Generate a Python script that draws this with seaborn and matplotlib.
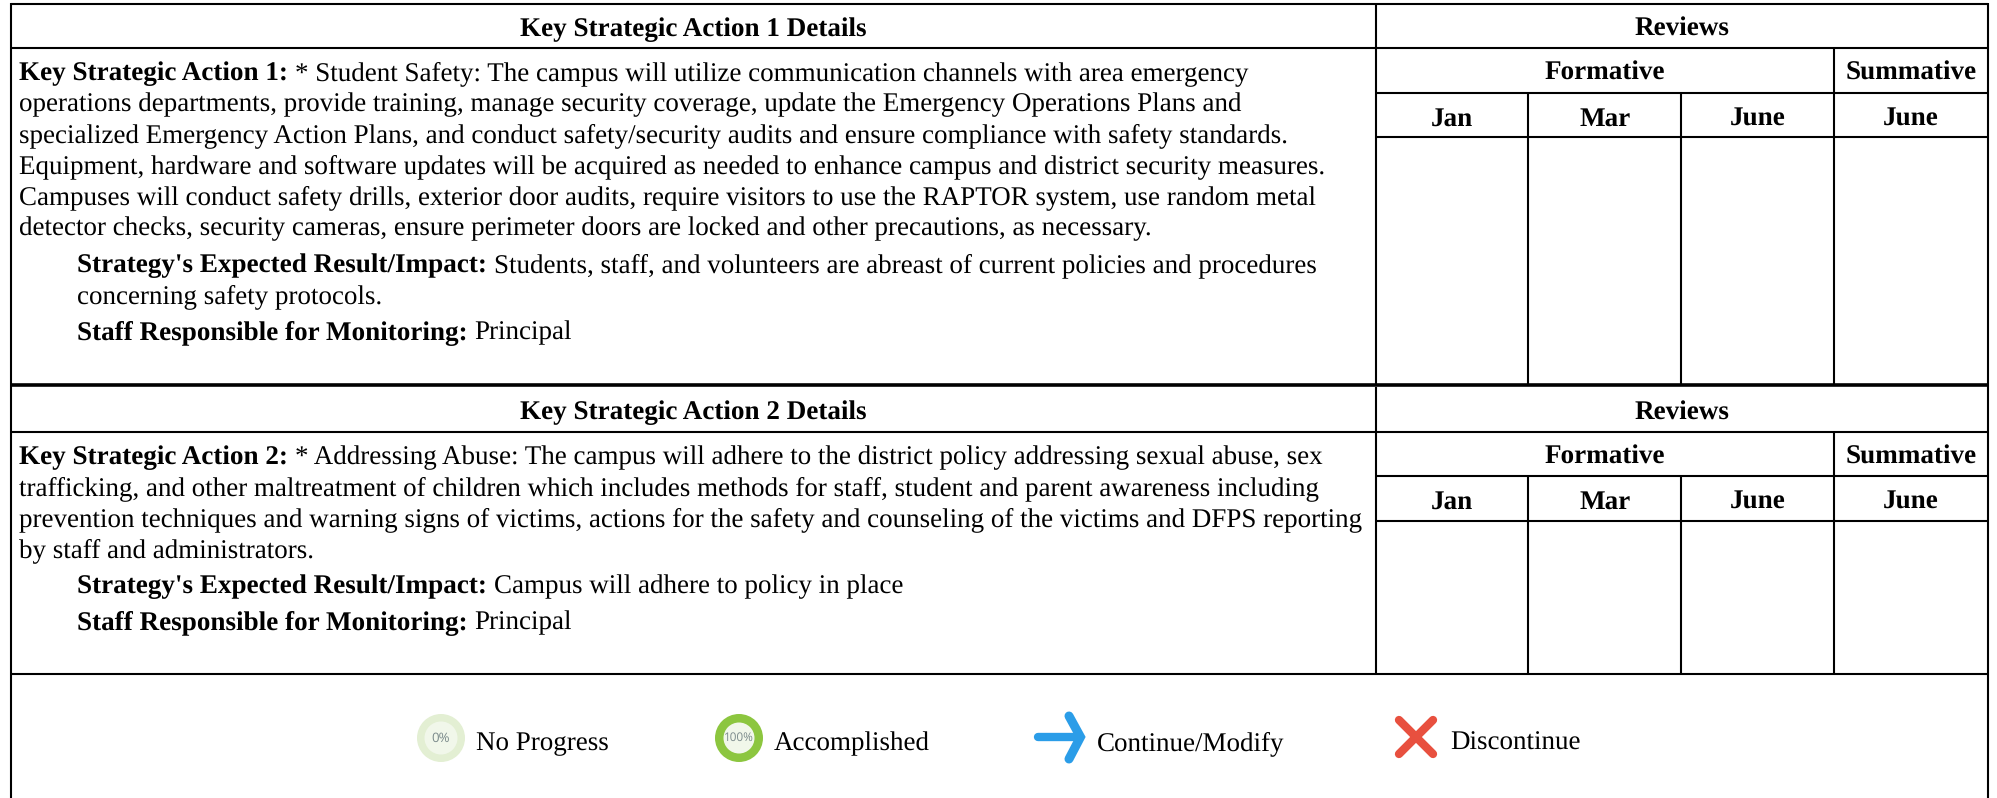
#!/usr/bin/env python3
"""Redraw the two key strategic action tables with their review columns and status legend."""

import matplotlib
matplotlib.use('Agg')
import matplotlib.pyplot as plt
from matplotlib.patches import Circle
import seaborn as sns

action_titles = ["Key Strategic Action 1 Details", "Key Strategic Action 2 Details"]
action_labels = ["Key Strategic Action 1:", "Key Strategic Action 2:"]
action_lines = [
    ["* Student Safety: The campus will utilize communication channels with area emergency",
     "operations departments, provide training, manage security coverage, update the Emergency Operations Plans and",
     "specialized Emergency Action Plans, and conduct safety/security audits and ensure compliance with safety standards.",
     "Equipment, hardware and software updates will be acquired as needed to enhance campus and district security measures.",
     "Campuses will conduct safety drills, exterior door audits, require visitors to use the RAPTOR system, use random metal",
     "detector checks, security cameras, ensure perimeter doors are locked and other precautions, as necessary."],
    ["* Addressing Abuse: The campus will adhere to the district policy addressing sexual abuse, sex",
     "trafficking, and other maltreatment of children which includes methods for staff, student and parent awareness including",
     "prevention techniques and warning signs of victims, actions for the safety and counseling of the victims and DFPS reporting",
     "by staff and administrators."],
]
result_label = "Strategy's Expected Result/Impact:"
result_lines = [
    ["Students, staff, and volunteers are abreast of current policies and procedures",
     "concerning safety protocols."],
    ["Campus will adhere to policy in place"],
]
staff_label = "Staff Responsible for Monitoring:"
staff_value = "Principal"
review_title = "Reviews"
formative_label = "Formative"
summative_label = "Summative"
review_months = ["Jan", "Mar", "June", "June"]
legend_labels = ["No Progress", "Accomplished", "Continue/Modify", "Discontinue"]

sns.set_theme(style="white")
plt.rcParams['font.family'] = ['Liberation Serif', 'DejaVu Serif']
plt.rcParams['text.hinting'] = 'no_hinting'

FS = 19.45
FS_BOLD = 19.55
LW = 1.5
fig = plt.figure(figsize=(19.97, 7.98), dpi=100, facecolor="white")
ax = fig.add_axes([0, 0, 1, 1])
ax.set_xlim(0, 1997)
ax.set_ylim(798, 0)
ax.axis("off")

LEFT, SPLIT, RIGHT = 11, 1376, 1988
COLS = [1376, 1528.5, 1681, 1834, 1988]


def mixed(x, y, bold, rest):
    # bold run first, then the plain run right after it
    t = ax.text(x, y, bold, fontsize=FS_BOLD, fontweight="bold", va="baseline", ha="left", color="black")
    bb = t.get_window_extent(fig.canvas.get_renderer())
    ax.text(bb.x1 + 7, y, rest, fontsize=FS, va="baseline", ha="left", color="black")


def header(x, y, s):
    ax.text(x, y, s, fontsize=FS_BOLD, fontweight="bold", va="baseline", ha="center", color="black")


def block(i, top, bottom, y_first, y_result):
    # grid rules, text hangs off the same offsets
    rows = [top + 44.5, top + 89, top + 133.5]
    ax.hlines([rows[0]], LEFT, RIGHT, color="black", lw=LW)
    ax.hlines([rows[1]], SPLIT, RIGHT, color="black", lw=LW)
    ax.hlines([rows[2]], SPLIT, RIGHT, color="black", lw=LW)
    ax.vlines([SPLIT], top, bottom, color="black", lw=LW)
    ax.vlines([COLS[3]], rows[0], bottom, color="black", lw=LW)
    ax.vlines(COLS[1:3], rows[1], bottom, color="black", lw=LW)

    # header cells
    header((LEFT + SPLIT) / 2, top + 32.5, action_titles[i])
    header((SPLIT + RIGHT) / 2, top + 32.5, review_title)
    header((COLS[0] + COLS[3]) / 2, top + 76.5, formative_label)
    header((COLS[3] + COLS[4]) / 2, top + 76.5, summative_label)
    for j, m in enumerate(review_months):
        header((COLS[j] + COLS[j + 1]) / 2, top + 122, m)

    # left cell text
    mixed(19, y_first, action_labels[i], action_lines[i][0])
    for k, line in enumerate(action_lines[i][1:], start=1):
        ax.text(19, y_first + k * 31, line, fontsize=FS, va="baseline", ha="left", color="black")
    mixed(77, y_result, result_label, result_lines[i][0])
    y = y_result
    for line in result_lines[i][1:]:
        y += 31
        ax.text(77, y, line, fontsize=FS, va="baseline", ha="left", color="black")
    mixed(77, y + 36, staff_label, staff_value)


block(0, 3.5, 385, 80, 272)
block(1, 387, 674, 464, 593)

# horizontal frame rules, the one between the tables is heavier
ax.hlines([3.5, 674], LEFT, RIGHT, color="black", lw=LW)
ax.hlines([385], LEFT, RIGHT, color="black", lw=2.6)

# outer frame runs off the bottom edge of the crop
ax.vlines([LEFT, RIGHT], 3, 798, color="black", lw=LW)

# legend icons
LY = 738
for cx, ring, pct, r_in, pct_fs in [(441, "#e3efd3", "0%", 16.5, 9.5),
                                    (739, "#8cc63f", "100%", 15.5, 8.5)]:
    ax.add_patch(Circle((cx, LY), 24, facecolor=ring, edgecolor="none"))
    ax.add_patch(Circle((cx, LY), r_in, facecolor="#f1f7ea", edgecolor="none"))
    ax.text(cx, LY, pct, fontsize=pct_fs, family="Open Sans", color="#7b8a8b", ha="center", va="center")

ax.plot([1038, 1078], [737, 737], color="#2b9de8", lw=6, solid_capstyle="round")
ax.plot([1069, 1080.5, 1069], [716, 737, 759], color="#2b9de8", lw=6.5,
        solid_capstyle="round", solid_joinstyle="miter")
ax.plot([1399, 1433], [720, 754], color="#e8503f", lw=6, solid_capstyle="round")
ax.plot([1433, 1399], [720, 754], color="#e8503f", lw=6, solid_capstyle="round")

for x, label in zip([476, 774, 1097, 1450], legend_labels):
    ax.text(x, 750, label, fontsize=FS, va="baseline", ha="left", color="black")

fig.savefig("out.png", dpi=100, facecolor="white")
